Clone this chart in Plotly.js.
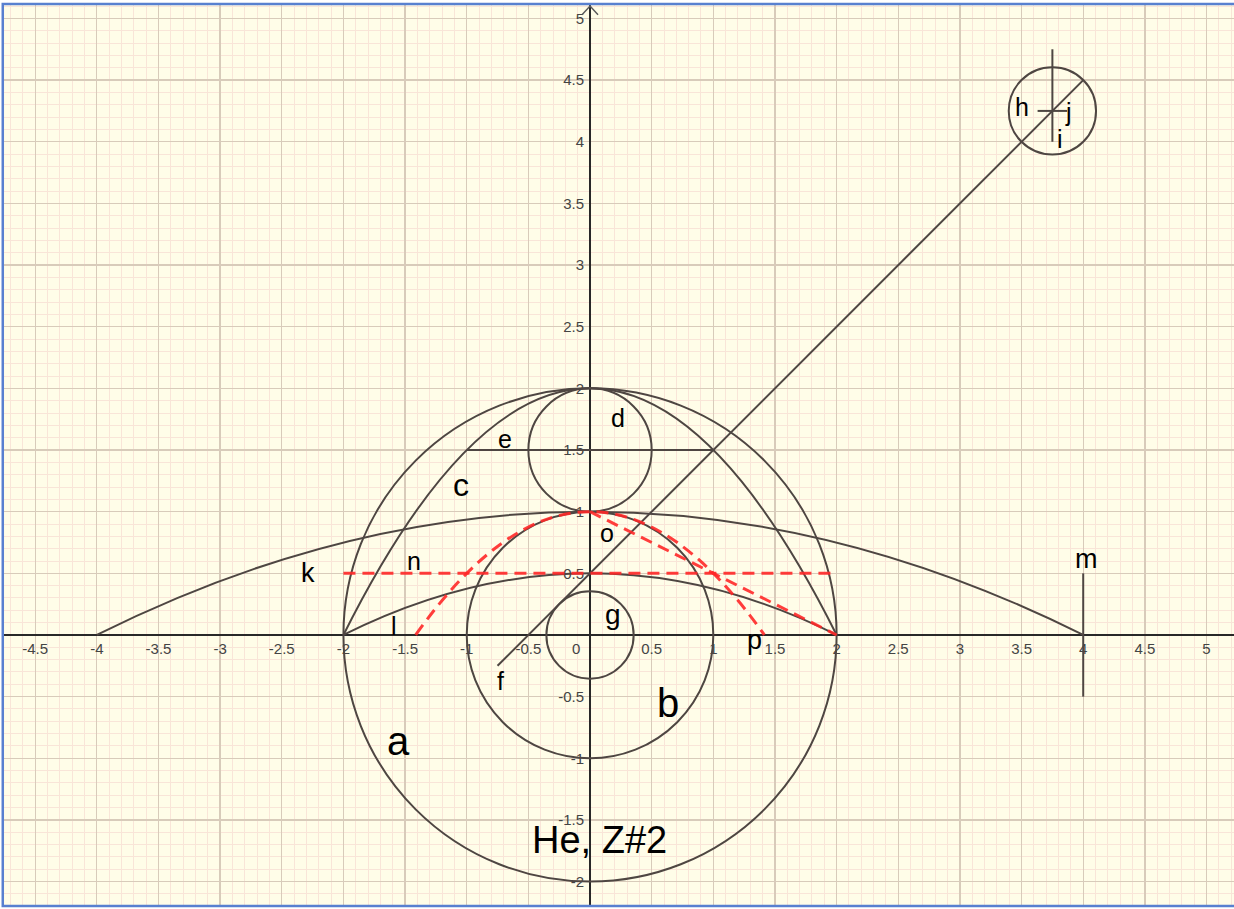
<!DOCTYPE html>
<html>
<head>
<meta charset="utf-8">
<script src="https://cdn.plot.ly/plotly-3.0.1.min.js"></script>
<style>html,body{margin:0;padding:0;background:#fff;}#chart{width:1234px;height:909px;}</style>
</head>
<body>
<div id="chart"></div>
<script>
// ---- data ----
// circles: centre x, centre y, radius
const circleCX = [0, 0, 0, 0, 3.75];
const circleCY = [0, 0, 0, 1.5, 4.25];
const circleR  = [2, 1, 0.354, 0.5, 0.354];

// grey parabolic arcs: half-width on the x axis and apex height (symmetric about x=0)
const arcHalfWidth = [4, 2, 2];
const arcApex      = [1, 2, 0.5];

// red dashed parabolic arc
const redArcHalfWidth = [1.414];
const redArcApex      = [1];

// grey straight segments: [x0, y0, x1, y1]
const segX0 = [-1, -0.75, 4, 3.75, 3.63];
const segY0 = [1.5, -0.25, -0.5, 4.0, 4.25];
const segX1 = [1, 4, 4, 3.75, 3.87];
const segY1 = [1.5, 4.5, 0.5, 4.75, 4.25];

// red dashed straight segments
const redX0 = [-2, 0];
const redY0 = [0.5, 1];
const redX1 = [2, 2];
const redY1 = [0.5, 0];

// point / object labels
const labelText = ['a','b','c','d','e','f','g','h','i','j','k','l','m','n','o','p','He, Z#2'];
const labelX    = [-1.55, 0.63, -1.05, 0.23, -0.69, -0.73, 0.19, 3.50, 3.81, 3.88, -2.29, -1.59, 4.03, -1.43, 0.14, 1.33, 0.08];
const labelY    = [-0.86, -0.55, 1.22, 1.76, 1.59, -0.37, 0.17, 4.28, 4.02, 4.24, 0.50, 0.07, 0.62, 0.60, 0.83, -0.04, -1.66];
const labelSize = [40, 40, 32, 25, 25, 25, 28, 25, 25, 25, 27, 25, 27, 25, 25, 27, 38];

// axis ticks
const xTickVals = [-4.5,-4,-3.5,-3,-2.5,-2,-1.5,-1,-0.5,0.5,1,1.5,2,2.5,3,3.5,4,4.5,5];
const xTickText = ['-4.5','-4','-3.5','-3','-2.5','-2','-1.5','-1','-0.5','0.5','1','1.5','2','2.5','3','3.5','4','4.5','5'];
const yTickVals = [-2,-1.5,-1,-0.5,0.5,1,1.5,2,2.5,3,3.5,4,4.5,5];
const yTickText = ['-2','-1.5','-1','-0.5','0.5','1','1.5','2','2.5','3','3.5','4','4.5','5'];

// ---- styling ----
const FONT = 'Liberation Sans, Arial, sans-serif';
const GREY = 'rgb(78,70,66)';
const RED = 'rgba(255,40,40,0.9)';
const xRange = [-4.753, 5.223];
const yRange = [-2.206, 5.109];

const shapes = [];
for (let i = 0; i < circleCX.length; i++) {
  shapes.push({type:'circle', xref:'x', yref:'y', layer:'above',
    x0: circleCX[i]-circleR[i], x1: circleCX[i]+circleR[i],
    y0: circleCY[i]-circleR[i], y1: circleCY[i]+circleR[i],
    line:{color:GREY, width:2}});
}
function arcPath(w, h) {
  // quadratic Bezier = exact parabola through (-w,0), (0,h), (w,0)
  return 'M ' + (-w) + ',0 Q 0,' + (2*h) + ' ' + w + ',0';
}
for (let i = 0; i < arcHalfWidth.length; i++) {
  shapes.push({type:'path', xref:'x', yref:'y', layer:'above',
    path: arcPath(arcHalfWidth[i], arcApex[i]), line:{color:GREY, width:2}});
}
for (let i = 0; i < segX0.length; i++) {
  shapes.push({type:'line', xref:'x', yref:'y', layer:'above',
    x0:segX0[i], y0:segY0[i], x1:segX1[i], y1:segY1[i], line:{color:GREY, width:2}});
}
for (let i = 0; i < redArcHalfWidth.length; i++) {
  shapes.push({type:'path', xref:'x', yref:'y', layer:'above',
    path: arcPath(redArcHalfWidth[i], redArcApex[i]), line:{color:RED, width:3, dash:'12px,7px'}});
}
for (let i = 0; i < redX0.length; i++) {
  shapes.push({type:'line', xref:'x', yref:'y', layer:'above',
    x0:redX0[i], y0:redY0[i], x1:redX1[i], y1:redY1[i], line:{color:RED, width:3, dash:'12px,7px'}});
}
// y-axis arrow head
shapes.push({type:'path', xref:'x', yref:'y', layer:'above',
  path:'M -0.065,5.03 L 0,5.10 L 0.065,5.03', line:{color:'rgb(90,90,90)', width:1.5}});
// blue frame
shapes.push({type:'rect', xref:'paper', yref:'paper', layer:'above',
  x0:-0.001, x1:1.01, y0:0.001, y1:1.001, line:{color:'rgb(88,128,208)', width:2.5}});

const annotations = labelText.map((t, i) => ({
  x: labelX[i], y: labelY[i], xref:'x', yref:'y', text:t, showarrow:false,
  font:{family:FONT, size:labelSize[i], color:'#000'}
}));
// origin label
annotations.push({x:-0.11, y:-0.11, xref:'x', yref:'y', text:'0', showarrow:false,
  font:{family:FONT, size:15, color:'#444'}});

const xPos = (0 - yRange[0]) / (yRange[1] - yRange[0]);
const yPos = (0 - xRange[0]) / (xRange[1] - xRange[0]);

const layout = {
  width:1234, height:909,
  margin:{l:4, r:0, t:5, b:2},
  paper_bgcolor:'#ffffff',
  plot_bgcolor:'rgb(255,253,232)',
  showlegend:false,
  font:{family:FONT},
  xaxis:{range:xRange, anchor:'free', position:xPos,
    tickmode:'array', tickvals:xTickVals, ticktext:xTickText, ticks:'',
    ticklabelstandoff:3,
    tickfont:{family:FONT, size:15, color:'#444'},
    showgrid:true, gridcolor:'rgb(216,203,186)', gridwidth:1.3,
    minor:{dtick:0.1, tick0:0, showgrid:true, gridcolor:'rgb(249,229,216)', gridwidth:1},
    zeroline:true, zerolinecolor:'rgb(40,40,40)', zerolinewidth:1.5,
    showline:false, fixedrange:true},
  yaxis:{range:yRange, anchor:'free', position:yPos,
    tickmode:'array', tickvals:yTickVals, ticktext:yTickText, ticks:'',
    ticklabelstandoff:6,
    tickfont:{family:FONT, size:15, color:'#444'},
    showgrid:true, gridcolor:'rgb(216,203,186)', gridwidth:1.3,
    minor:{dtick:0.1, tick0:0, showgrid:true, gridcolor:'rgb(249,229,216)', gridwidth:1},
    zeroline:true, zerolinecolor:'rgb(40,40,40)', zerolinewidth:1.5,
    showline:false, fixedrange:true},
  shapes:shapes,
  annotations:annotations
};

Plotly.newPlot('chart', [], layout, {displayModeBar:false, staticPlot:true});
</script>
</body>
</html>
